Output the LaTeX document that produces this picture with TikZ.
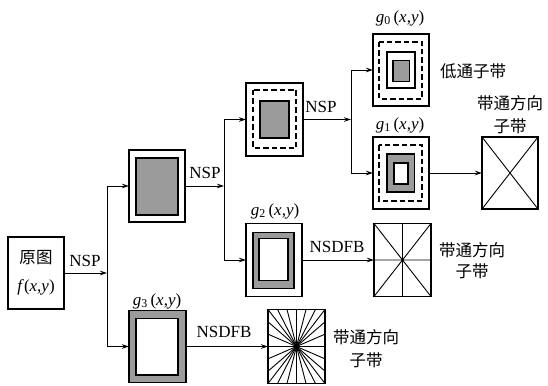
\documentclass[tikz,border=0pt]{standalone}
\usepackage{fontspec}
\setmainfont{Liberation Serif}
\newfontfamily\cjk{Noto Sans CJK SC}
\usetikzlibrary{arrows.meta}
\definecolor{boxgray}{RGB}{155,155,155}
\begin{document}
\begin{tikzpicture}[x=1pt,y=-1pt,
  every node/.style={inner sep=0pt,outer sep=0pt},
  txt/.style={font=\fontsize{17}{20}\selectfont},
  ctxt/.style={font=\cjk\fontsize{16.5}{20}\selectfont},
  frame/.style={draw,line width=1.3pt,minimum width=56pt,minimum height=72pt},
  inbox/.style={draw,line width=1.8pt},
  dashbox/.style={draw,line width=1.1pt,dash pattern=on 5.5pt off 3pt},
  dirline/.style={line width=0.9pt},
  conn/.style={line width=0.9pt},
  arr/.style={conn,-{Stealth[length=7pt,width=4.5pt]}}]
\useasboundingbox (0,0) rectangle (548,385);

% ---- boxes ----
\node[frame] (orig) at (36,273) {};
\node[frame] (l1) at (157,186) {};
\node[frame,minimum width=57pt,minimum height=73pt] (l2) at (274.5,119.5) {};
\node[frame] (g0) at (401,70) {};
\node[frame] (g1) at (401,173) {};
\node[frame] (dir4) at (510,173) {};
\node[frame,minimum height=73pt] (g2) at (274,260) {};
\node[frame,minimum width=57pt,minimum height=73pt] (dir8) at (402.5,260) {};
\node[frame,minimum width=57pt,fill=boxgray] (g3) at (157.5,346.5) {};
\node[frame,minimum width=57pt,minimum height=74pt] (dir16) at (296.5,346.5) {};

% ---- box interiors ----
\begin{scope}[shift={(l1.center)}]
  \draw[inbox,fill=boxgray] (-21,-28) rectangle (21,29);
\end{scope}
\begin{scope}[shift={(l2.center)}]
  \draw[dashbox] (-21.5,-29.5) rectangle (21.5,28.5);
  \draw[inbox,fill=boxgray] (-14.5,-18.5) rectangle (14.5,18.5);
\end{scope}
\begin{scope}[shift={(g0.center)}]
  \draw[dashbox] (-22,-28) rectangle (21,29);
  \draw[line width=1.3pt] (-14,-18) rectangle (14,18);
  \draw[inbox,fill=boxgray] (-8,-9.5) rectangle (8.5,11.5);
\end{scope}
\begin{scope}[shift={(g1.center)}]
  \draw[dashbox] (-22,-28) rectangle (21,28);
  \draw[inbox,fill=boxgray] (-14,-19) rectangle (13.5,19);
  \draw[inbox,fill=white] (-7,-10) rectangle (7,11);
\end{scope}
\begin{scope}[shift={(g2.center)}]
  \draw[inbox,fill=boxgray] (-21,-27.5) rectangle (20,28.5);
  \draw[inbox,fill=white] (-15,-21.5) rectangle (14,20.5);
\end{scope}
\begin{scope}[shift={(g3.center)}]
  \draw[inbox,fill=white] (-21.5,-28) rectangle (20.5,28.5);
\end{scope}

% ---- directional boxes ----
\begin{scope}[shift={(dir4.center)}]
  \draw[dirline] (-28,-36) -- (28,36) (28,-36) -- (-28,36);
\end{scope}
\begin{scope}[shift={(dir8.center)}]
  \draw[dirline] (-28.5,-36.5) -- (28.5,36.5) (28.5,-36.5) -- (-28.5,36.5)
    (0,-36.5) -- (0,36.5) (-28.5,0) -- (28.5,0);
\end{scope}
\begin{scope}[shift={(dir16.center)}]
  \draw[dirline] (-28.5,-37) -- (28.5,37) (28.5,-37) -- (-28.5,37);
  \foreach \k in {-2,-1,0,1,2}{
    \draw[dirline] ({\k*9.5},-37) -- ({-\k*9.5},37);
    \draw[dirline] (-28.5,{\k*12.33}) -- (28.5,{-\k*12.33});
  }
\end{scope}

% ---- junctions ----
\coordinate (j1) at (107,273);
\coordinate (j1a) at (107,186);
\coordinate (j1b) at (107,346.5);
\coordinate (j2) at (224,186);
\coordinate (j2a) at (224,119.5);
\coordinate (j2b) at (224,260);
\coordinate (j3) at (351,119.5);
\coordinate (j3a) at (351,70);
\coordinate (j3b) at (351,173);

% ---- connectors ----
\draw[arr] (orig.east) -- (j1);
\draw[conn] (j1a) -- (j1b);
\draw[arr] (j1a) -- (l1.west);
\draw[arr] (j1b) -- (g3.west);
\draw[arr] (l1.east) -- (j2);
\draw[conn] (j2a) -- (j2b);
\draw[arr] (j2a) -- (l2.west);
\draw[arr] (j2b) -- (g2.west);
\draw[arr] (l2.east) -- (j3);
\draw[conn] (j3a) -- (j3b);
\draw[arr] (j3a) -- (g0.west);
\draw[arr] (j3b) -- (g1.west);
\draw[arr] (g1.east) -- (dir4.west);
\draw[arr] (g2.east) -- (dir8.west);
\draw[arr] (g3.east) -- (dir16.west);

% ---- labels ----
\node[ctxt] (torig) at (36,258) {原图};
\node[txt] (tf) at (36,287) {\textit{f}(\textit{x},\textit{y})};
\node[txt] (tnsp1) at (85,261) {NSP};
\node[txt] (tnsp2) at (205,173) {NSP};
\node[txt] (tnsp3) at (321,107) {NSP};
\node[txt] (tnsdfb1) at (337,247) {NSDFB};
\node[txt] (tnsdfb2) at (224,332) {NSDFB};
\node[txt] (tg0) at (400,18) {\textit{g}\textsubscript{0}\,(\textit{x},\textit{y})};
\node[txt] (tg1) at (400,125) {\textit{g}\textsubscript{1}\,(\textit{x},\textit{y})};
\node[txt] (tg2) at (275,211) {\textit{g}\textsubscript{2}\,(\textit{x},\textit{y})};
\node[txt] (tg3) at (157,301) {\textit{g}\textsubscript{3}\,(\textit{x},\textit{y})};
\node[ctxt] (tlow) at (473,71) {低通子带};
\node[ctxt] (tb4a) at (510,103) {带通方向};
\node[ctxt] (tb4b) at (510,126) {子带};
\node[ctxt] (tb8a) at (472,250) {带通方向};
\node[ctxt] (tb8b) at (472,271) {子带};
\node[ctxt] (tb16a) at (366,337) {带通方向};
\node[ctxt] (tb16b) at (366,360) {子带};
\end{tikzpicture}
\end{document}
